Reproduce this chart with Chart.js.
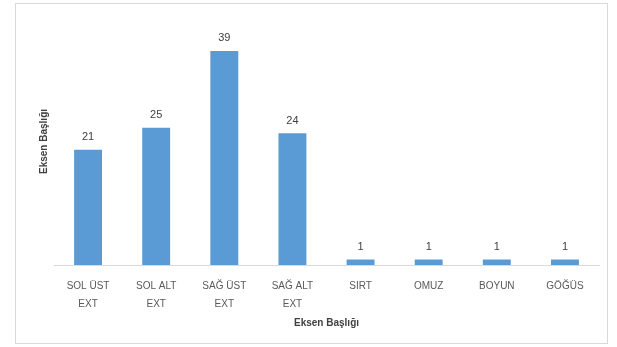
<!DOCTYPE html>
<html>
<head>
<meta charset="utf-8">
<script src="https://cdn.jsdelivr.net/npm/chart.js@4/dist/chart.umd.min.js"></script>
<style>
  html, body { margin: 0; padding: 0; background: #fff; }
  #wrap { position: relative; width: 617px; height: 347px; }
  #frame { position: absolute; left: 15px; top: 3px; width: 593px; height: 341px; border: 1px solid #d9d9d9; box-sizing: border-box; }
  canvas { position: absolute; left: 0; top: 0; }
</style>
</head>
<body>
<div id="wrap">
  <div id="frame"></div>
  <canvas id="c" width="617" height="347"></canvas>
</div>
<script>
// Region names (two-line labels where the text wraps)
const categories = [
  ["SOL ÜST", "EXT"],
  ["SOL ALT", "EXT"],
  ["SAĞ ÜST", "EXT"],
  ["SAĞ ALT", "EXT"],
  "SIRT",
  "OMUZ",
  "BOYUN",
  "GÖĞÜS"
];
const counts = [21, 25, 39, 24, 1, 1, 1, 1];
const xTitle = "Eksen Başlığı";
const yTitle = "Eksen Başlığı";

const FONT = "'Liberation Sans Narrow', 'Liberation Sans', Arial, sans-serif";

// Writes each bar's value just above it
const valueLabels = {
  id: 'valueLabels',
  afterDatasetsDraw(chart) {
    const ctx = chart.ctx;
    const meta = chart.getDatasetMeta(0);
    const data = chart.data.datasets[0].data;
    ctx.save();
    ctx.font = "11px " + FONT;
    ctx.fillStyle = "#404040";
    ctx.textAlign = "center";
    ctx.textBaseline = "bottom";
    meta.data.forEach((bar, i) => {
      ctx.fillText(String(data[i]), bar.x, bar.y - 7);
    });
    ctx.restore();
  }
};

new Chart(document.getElementById('c'), {
  type: 'bar',
  data: {
    labels: categories,
    datasets: [{
      data: counts,
      backgroundColor: '#5B9BD5',
      borderWidth: 0,
      categoryPercentage: 1,
      barPercentage: 0.41
    }]
  },
  options: {
    responsive: false,
    animation: false,
    events: [],
    layout: { padding: { left: 38, right: 18, top: 18, bottom: 18 } },
    plugins: {
      legend: { display: false },
      tooltip: { enabled: false }
    },
    scales: {
      x: {
        grid: { display: false },
        border: { color: '#d9d9d9', width: 1 },
        ticks: {
          color: '#595959',
          font: { family: FONT, size: 10, lineHeight: 1.8 },
          maxRotation: 0,
          autoSkip: false,
          padding: 4
        },
        title: {
          display: true,
          text: xTitle,
          color: '#404040',
          font: { family: FONT, size: 10, weight: 'bold' },
          padding: { top: 0, bottom: 0 }
        }
      },
      y: {
        min: 0,
        max: 45,
        grid: { display: false, drawTicks: false },
        border: { display: false },
        ticks: { display: false, padding: 0 },
        title: {
          display: true,
          text: yTitle,
          color: '#404040',
          font: { family: FONT, size: 10, weight: 'bold' },
          padding: { top: 0, bottom: 4 }
        }
      }
    }
  },
  plugins: [valueLabels]
});
</script>
</body>
</html>
